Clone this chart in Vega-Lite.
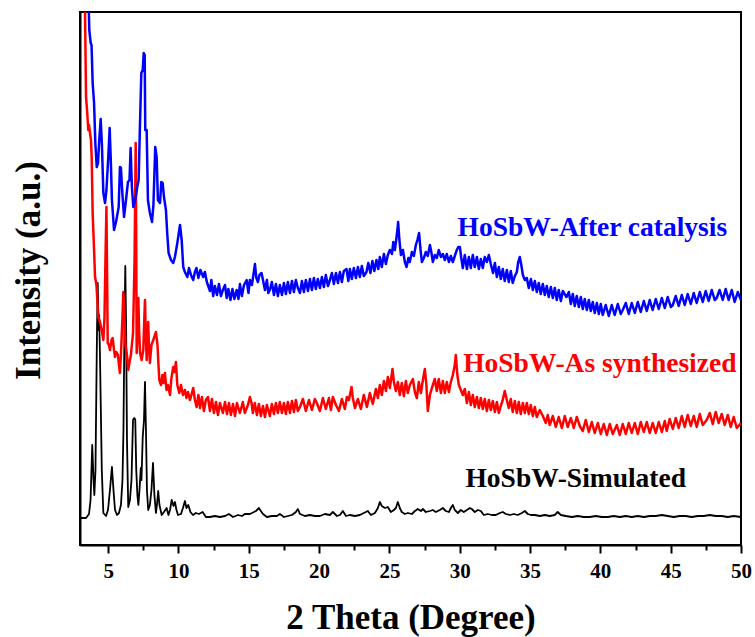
{
"$schema": "https://vega.github.io/schema/vega-lite/v6.json",
"width": 661, "height": 533,
"autosize": {"type": "none"},
"padding": {"left": 80, "top": 12, "right": 14, "bottom": 92},
"background": "white",
"config": {"font": "Liberation Serif", "view": {"stroke": "black", "strokeWidth": 2}},
"datasets": {
"sim": [
{"x":3.00,"y":27},{"x":3.43,"y":27},{"x":3.64,"y":31},{"x":3.75,"y":45},{"x":3.87,"y":100},{"x":3.96,"y":65},{"x":4.02,"y":50},{"x":4.10,"y":75},{"x":4.21,"y":215},{"x":4.26,"y":262},{"x":4.32,"y":215},{"x":4.36,"y":230},{"x":4.42,"y":190},{"x":4.47,"y":145},{"x":4.55,"y":75},{"x":4.66,"y":32},{"x":4.85,"y":29},{"x":4.99,"y":35},{"x":5.13,"y":55},{"x":5.27,"y":78},{"x":5.38,"y":55},{"x":5.49,"y":35},{"x":5.63,"y":30},{"x":5.77,"y":32},{"x":5.91,"y":40},{"x":6.02,"y":65},{"x":6.09,"y":115},{"x":6.16,"y":215},{"x":6.22,"y":279},{"x":6.28,"y":215},{"x":6.34,"y":105},{"x":6.43,"y":38},{"x":6.55,"y":45},{"x":6.66,"y":65},{"x":6.77,"y":125},{"x":6.86,"y":127},{"x":6.93,"y":125},{"x":7.00,"y":75},{"x":7.08,"y":50},{"x":7.15,"y":40},{"x":7.23,"y":55},{"x":7.32,"y":77},{"x":7.37,"y":65},{"x":7.46,"y":108},{"x":7.55,"y":125},{"x":7.62,"y":163},{"x":7.69,"y":115},{"x":7.76,"y":55},{"x":7.85,"y":35},{"x":7.97,"y":40},{"x":8.08,"y":55},{"x":8.19,"y":82},{"x":8.29,"y":50},{"x":8.40,"y":32},{"x":8.47,"y":40},{"x":8.56,"y":54},{"x":8.65,"y":40},{"x":8.81,"y":30},{"x":8.97,"y":33},{"x":9.16,"y":37},{"x":9.29,"y":30},{"x":9.40,"y":35},{"x":9.52,"y":45},{"x":9.65,"y":39},{"x":9.75,"y":43},{"x":9.86,"y":35},{"x":9.97,"y":30},{"x":10.18,"y":31},{"x":10.32,"y":37},{"x":10.46,"y":44},{"x":10.57,"y":37},{"x":10.70,"y":40},{"x":10.85,"y":33},{"x":11.03,"y":30},{"x":11.24,"y":32},{"x":11.46,"y":31},{"x":11.72,"y":33},{"x":11.95,"y":28},{"x":12.24,"y":28},{"x":12.59,"y":29},{"x":12.95,"y":28},{"x":13.31,"y":29},{"x":13.59,"y":31},{"x":13.88,"y":28},{"x":14.23,"y":30},{"x":14.52,"y":29},{"x":14.72,"y":31},{"x":15.08,"y":31},{"x":15.37,"y":33},{"x":15.51,"y":34},{"x":15.72,"y":37},{"x":15.86,"y":34},{"x":16.01,"y":31},{"x":16.29,"y":28},{"x":16.64,"y":29},{"x":17.00,"y":29},{"x":17.21,"y":31},{"x":17.50,"y":28},{"x":17.78,"y":29},{"x":18.07,"y":30},{"x":18.35,"y":33},{"x":18.49,"y":36},{"x":18.64,"y":31},{"x":18.99,"y":29},{"x":19.35,"y":30},{"x":19.70,"y":29},{"x":20.06,"y":29},{"x":20.41,"y":31},{"x":20.77,"y":30},{"x":20.98,"y":33},{"x":21.27,"y":29},{"x":21.48,"y":30},{"x":21.69,"y":34},{"x":21.91,"y":29},{"x":22.19,"y":30},{"x":22.55,"y":29},{"x":22.90,"y":30},{"x":23.18,"y":32},{"x":23.47,"y":34},{"x":23.68,"y":30},{"x":23.97,"y":32},{"x":24.18,"y":37},{"x":24.32,"y":43},{"x":24.46,"y":39},{"x":24.68,"y":37},{"x":24.89,"y":38},{"x":25.10,"y":33},{"x":25.32,"y":35},{"x":25.46,"y":37},{"x":25.60,"y":43},{"x":25.74,"y":37},{"x":25.88,"y":33},{"x":26.10,"y":31},{"x":26.31,"y":32},{"x":26.60,"y":31},{"x":26.81,"y":34},{"x":27.02,"y":36},{"x":27.24,"y":34},{"x":27.38,"y":36},{"x":27.59,"y":33},{"x":27.88,"y":34},{"x":28.09,"y":35},{"x":28.30,"y":33},{"x":28.59,"y":35},{"x":28.80,"y":37},{"x":29.01,"y":34},{"x":29.23,"y":33},{"x":29.37,"y":37},{"x":29.51,"y":40},{"x":29.65,"y":35},{"x":29.87,"y":32},{"x":30.08,"y":35},{"x":30.29,"y":33},{"x":30.51,"y":35},{"x":30.72,"y":37},{"x":30.86,"y":36},{"x":31.07,"y":33},{"x":31.29,"y":35},{"x":31.50,"y":34},{"x":31.71,"y":30},{"x":32.00,"y":31},{"x":32.28,"y":30},{"x":32.57,"y":30},{"x":32.85,"y":32},{"x":33.06,"y":33},{"x":33.28,"y":31},{"x":33.56,"y":30},{"x":33.85,"y":31},{"x":34.13,"y":30},{"x":34.42,"y":32},{"x":34.63,"y":34},{"x":34.84,"y":31},{"x":35.06,"y":30},{"x":35.34,"y":30},{"x":35.70,"y":29},{"x":36.05,"y":30},{"x":36.40,"y":29},{"x":36.76,"y":30},{"x":36.97,"y":33},{"x":37.19,"y":30},{"x":37.54,"y":29},{"x":37.97,"y":28},{"x":38.39,"y":29},{"x":38.82,"y":28},{"x":39.25,"y":28},{"x":39.67,"y":29},{"x":40.10,"y":28},{"x":40.53,"y":28},{"x":40.95,"y":29},{"x":41.38,"y":28},{"x":41.81,"y":29},{"x":42.23,"y":28},{"x":42.66,"y":29},{"x":43.09,"y":28},{"x":43.51,"y":29},{"x":43.94,"y":29},{"x":44.37,"y":30},{"x":44.79,"y":29},{"x":45.22,"y":28},{"x":45.64,"y":29},{"x":46.07,"y":29},{"x":46.50,"y":28},{"x":46.92,"y":29},{"x":47.35,"y":29},{"x":47.78,"y":30},{"x":48.20,"y":29},{"x":48.63,"y":29},{"x":49.06,"y":28},{"x":49.48,"y":29},{"x":50.00,"y":28}
],
"asyn": [
{"x":3.30,"y":600},{"x":3.43,"y":448},{"x":3.50,"y":435},{"x":3.59,"y":415},{"x":3.64,"y":420},{"x":3.71,"y":412},{"x":3.78,"y":405},{"x":3.83,"y":388},{"x":3.90,"y":332},{"x":4.00,"y":295},{"x":4.07,"y":268},{"x":4.17,"y":260},{"x":4.30,"y":228},{"x":4.42,"y":223},{"x":4.54,"y":215},{"x":4.66,"y":205},{"x":4.74,"y":227},{"x":4.81,"y":285},{"x":4.88,"y":338},{"x":4.93,"y":265},{"x":4.97,"y":202},{"x":5.06,"y":200},{"x":5.13,"y":195},{"x":5.24,"y":205},{"x":5.32,"y":207},{"x":5.42,"y":195},{"x":5.49,"y":188},{"x":5.59,"y":193},{"x":5.70,"y":190},{"x":5.77,"y":180},{"x":5.84,"y":172},{"x":5.91,"y":190},{"x":6.01,"y":225},{"x":6.08,"y":253},{"x":6.16,"y":230},{"x":6.23,"y":200},{"x":6.34,"y":190},{"x":6.43,"y":175},{"x":6.55,"y":185},{"x":6.62,"y":190},{"x":6.77,"y":212},{"x":6.88,"y":285},{"x":6.96,"y":402},{"x":7.00,"y":295},{"x":7.03,"y":192},{"x":7.09,"y":215},{"x":7.15,"y":247},{"x":7.20,"y":215},{"x":7.27,"y":192},{"x":7.38,"y":185},{"x":7.50,"y":195},{"x":7.57,"y":225},{"x":7.62,"y":245},{"x":7.68,"y":210},{"x":7.74,"y":185},{"x":7.80,"y":210},{"x":7.85,"y":223},{"x":7.90,"y":200},{"x":7.97,"y":182},{"x":8.08,"y":200},{"x":8.21,"y":205},{"x":8.33,"y":210},{"x":8.40,"y":213},{"x":8.51,"y":200},{"x":8.58,"y":180},{"x":8.64,"y":165},{"x":8.76,"y":160},{"x":8.86,"y":170},{"x":8.93,"y":162},{"x":9.04,"y":172},{"x":9.15,"y":155},{"x":9.25,"y":160},{"x":9.40,"y":150},{"x":9.50,"y":167},{"x":9.63,"y":178},{"x":9.72,"y":173},{"x":9.82,"y":183},{"x":9.92,"y":160},{"x":10.06,"y":152},{"x":10.18,"y":160},{"x":10.32,"y":150},{"x":10.46,"y":155},{"x":10.57,"y":147},{"x":10.68,"y":153},{"x":10.82,"y":145},{"x":10.92,"y":150},{"x":11.05,"y":157},{"x":11.17,"y":145},{"x":11.29,"y":138},{"x":11.42,"y":150},{"x":11.53,"y":137},{"x":11.67,"y":148},{"x":11.81,"y":134},{"x":11.95,"y":145},{"x":12.10,"y":148},{"x":12.24,"y":134},{"x":12.38,"y":146},{"x":12.52,"y":132},{"x":12.67,"y":143},{"x":12.81,"y":130},{"x":12.95,"y":142},{"x":13.16,"y":132},{"x":13.31,"y":143},{"x":13.45,"y":131},{"x":13.59,"y":142},{"x":13.73,"y":130},{"x":13.88,"y":141},{"x":14.02,"y":129},{"x":14.16,"y":142},{"x":14.37,"y":132},{"x":14.58,"y":143},{"x":14.72,"y":132},{"x":14.94,"y":140},{"x":15.08,"y":148},{"x":15.20,"y":142},{"x":15.29,"y":132},{"x":15.43,"y":142},{"x":15.58,"y":130},{"x":15.72,"y":141},{"x":15.86,"y":129},{"x":16.01,"y":139},{"x":16.15,"y":128},{"x":16.29,"y":140},{"x":16.50,"y":129},{"x":16.64,"y":141},{"x":16.79,"y":131},{"x":16.93,"y":142},{"x":17.07,"y":132},{"x":17.21,"y":143},{"x":17.36,"y":132},{"x":17.50,"y":142},{"x":17.64,"y":131},{"x":17.78,"y":143},{"x":17.93,"y":132},{"x":18.07,"y":144},{"x":18.21,"y":133},{"x":18.35,"y":145},{"x":18.49,"y":134},{"x":18.64,"y":138},{"x":18.85,"y":146},{"x":19.06,"y":134},{"x":19.28,"y":145},{"x":19.49,"y":135},{"x":19.70,"y":146},{"x":19.84,"y":142},{"x":20.06,"y":134},{"x":20.27,"y":147},{"x":20.48,"y":136},{"x":20.70,"y":147},{"x":20.84,"y":135},{"x":20.98,"y":148},{"x":21.20,"y":140},{"x":21.41,"y":134},{"x":21.62,"y":146},{"x":21.83,"y":136},{"x":21.98,"y":148},{"x":22.12,"y":145},{"x":22.31,"y":158},{"x":22.40,"y":147},{"x":22.55,"y":137},{"x":22.76,"y":146},{"x":22.97,"y":136},{"x":23.18,"y":150},{"x":23.40,"y":138},{"x":23.61,"y":152},{"x":23.82,"y":141},{"x":24.04,"y":156},{"x":24.18,"y":147},{"x":24.32,"y":160},{"x":24.46,"y":150},{"x":24.61,"y":164},{"x":24.75,"y":154},{"x":24.89,"y":168},{"x":25.03,"y":157},{"x":25.22,"y":176},{"x":25.32,"y":163},{"x":25.46,"y":154},{"x":25.60,"y":163},{"x":25.74,"y":150},{"x":25.88,"y":162},{"x":26.03,"y":149},{"x":26.17,"y":164},{"x":26.31,"y":152},{"x":26.45,"y":160},{"x":26.67,"y":166},{"x":26.81,"y":153},{"x":26.95,"y":147},{"x":27.09,"y":163},{"x":27.24,"y":152},{"x":27.38,"y":165},{"x":27.52,"y":176},{"x":27.63,"y":160},{"x":27.73,"y":134},{"x":27.88,"y":150},{"x":28.02,"y":157},{"x":28.23,"y":166},{"x":28.37,"y":154},{"x":28.51,"y":166},{"x":28.66,"y":152},{"x":28.80,"y":164},{"x":28.94,"y":152},{"x":29.08,"y":163},{"x":29.23,"y":153},{"x":29.37,"y":163},{"x":29.51,"y":170},{"x":29.65,"y":180},{"x":29.72,"y":190},{"x":29.83,"y":170},{"x":29.94,"y":160},{"x":30.08,"y":155},{"x":30.22,"y":150},{"x":30.36,"y":156},{"x":30.51,"y":142},{"x":30.65,"y":153},{"x":30.79,"y":140},{"x":30.93,"y":150},{"x":31.07,"y":138},{"x":31.22,"y":148},{"x":31.36,"y":137},{"x":31.50,"y":147},{"x":31.64,"y":136},{"x":31.78,"y":146},{"x":31.93,"y":134},{"x":32.07,"y":145},{"x":32.21,"y":135},{"x":32.35,"y":144},{"x":32.50,"y":133},{"x":32.64,"y":143},{"x":32.78,"y":132},{"x":32.92,"y":139},{"x":33.06,"y":145},{"x":33.20,"y":154},{"x":33.35,"y":145},{"x":33.49,"y":137},{"x":33.63,"y":146},{"x":33.77,"y":133},{"x":33.92,"y":144},{"x":34.06,"y":132},{"x":34.20,"y":143},{"x":34.34,"y":131},{"x":34.49,"y":142},{"x":34.63,"y":132},{"x":34.77,"y":142},{"x":34.91,"y":131},{"x":35.05,"y":140},{"x":35.20,"y":129},{"x":35.34,"y":138},{"x":35.48,"y":128},{"x":35.69,"y":135},{"x":35.91,"y":129},{"x":36.12,"y":122},{"x":36.26,"y":130},{"x":36.40,"y":120},{"x":36.62,"y":129},{"x":36.83,"y":118},{"x":37.04,"y":128},{"x":37.26,"y":117},{"x":37.47,"y":129},{"x":37.68,"y":118},{"x":37.90,"y":127},{"x":38.11,"y":117},{"x":38.32,"y":128},{"x":38.54,"y":119},{"x":38.75,"y":114},{"x":38.96,"y":125},{"x":39.18,"y":113},{"x":39.39,"y":123},{"x":39.60,"y":112},{"x":39.82,"y":122},{"x":40.03,"y":111},{"x":40.24,"y":121},{"x":40.46,"y":110},{"x":40.67,"y":121},{"x":40.88,"y":111},{"x":41.17,"y":120},{"x":41.38,"y":110},{"x":41.59,"y":121},{"x":41.81,"y":111},{"x":42.02,"y":122},{"x":42.23,"y":112},{"x":42.45,"y":122},{"x":42.66,"y":111},{"x":42.87,"y":123},{"x":43.09,"y":113},{"x":43.30,"y":123},{"x":43.51,"y":112},{"x":43.72,"y":122},{"x":43.94,"y":112},{"x":44.15,"y":123},{"x":44.37,"y":113},{"x":44.58,"y":124},{"x":44.72,"y":114},{"x":44.93,"y":126},{"x":45.15,"y":116},{"x":45.36,"y":127},{"x":45.57,"y":117},{"x":45.79,"y":129},{"x":46.00,"y":118},{"x":46.21,"y":130},{"x":46.43,"y":119},{"x":46.64,"y":129},{"x":46.85,"y":118},{"x":47.07,"y":131},{"x":47.28,"y":120},{"x":47.56,"y":125},{"x":47.78,"y":132},{"x":47.99,"y":121},{"x":48.20,"y":133},{"x":48.41,"y":122},{"x":48.63,"y":131},{"x":48.84,"y":120},{"x":49.06,"y":130},{"x":49.27,"y":118},{"x":49.48,"y":128},{"x":49.70,"y":117},{"x":50.00,"y":122}
],
"after": [
{"x":3.55,"y":580},{"x":3.66,"y":515},{"x":3.76,"y":502},{"x":3.82,"y":500},{"x":3.90,"y":462},{"x":4.00,"y":442},{"x":4.09,"y":402},{"x":4.19,"y":378},{"x":4.28,"y":382},{"x":4.37,"y":405},{"x":4.47,"y":426},{"x":4.56,"y":400},{"x":4.66,"y":352},{"x":4.78,"y":342},{"x":4.88,"y":355},{"x":5.01,"y":388},{"x":5.11,"y":417},{"x":5.20,"y":380},{"x":5.27,"y":345},{"x":5.42,"y":315},{"x":5.56,"y":323},{"x":5.65,"y":330},{"x":5.75,"y":338},{"x":5.84,"y":378},{"x":5.91,"y":377},{"x":6.01,"y":352},{"x":6.13,"y":328},{"x":6.27,"y":345},{"x":6.41,"y":363},{"x":6.52,"y":365},{"x":6.60,"y":397},{"x":6.69,"y":358},{"x":6.79,"y":338},{"x":6.93,"y":345},{"x":7.07,"y":358},{"x":7.17,"y":365},{"x":7.26,"y":418},{"x":7.36,"y":472},{"x":7.46,"y":475},{"x":7.53,"y":492},{"x":7.60,"y":490},{"x":7.64,"y":415},{"x":7.74,"y":415},{"x":7.83,"y":345},{"x":7.97,"y":332},{"x":8.12,"y":323},{"x":8.22,"y":340},{"x":8.35,"y":398},{"x":8.45,"y":388},{"x":8.54,"y":345},{"x":8.69,"y":342},{"x":8.78,"y":363},{"x":8.88,"y":362},{"x":8.97,"y":348},{"x":9.11,"y":335},{"x":9.20,"y":312},{"x":9.30,"y":292},{"x":9.47,"y":285},{"x":9.63,"y":282},{"x":9.75,"y":288},{"x":9.92,"y":302},{"x":10.11,"y":320},{"x":10.23,"y":305},{"x":10.34,"y":278},{"x":10.46,"y":273},{"x":10.63,"y":268},{"x":10.75,"y":277},{"x":10.89,"y":270},{"x":11.05,"y":265},{"x":11.17,"y":273},{"x":11.28,"y":277},{"x":11.42,"y":267},{"x":11.56,"y":275},{"x":11.76,"y":268},{"x":11.88,"y":273},{"x":12.02,"y":263},{"x":12.24,"y":254},{"x":12.34,"y":265},{"x":12.47,"y":249},{"x":12.59,"y":259},{"x":12.74,"y":250},{"x":12.88,"y":261},{"x":13.02,"y":249},{"x":13.16,"y":255},{"x":13.31,"y":260},{"x":13.43,"y":247},{"x":13.55,"y":256},{"x":13.70,"y":245},{"x":13.84,"y":256},{"x":13.98,"y":246},{"x":14.14,"y":255},{"x":14.27,"y":246},{"x":14.37,"y":261},{"x":14.51,"y":249},{"x":14.66,"y":260},{"x":14.85,"y":265},{"x":14.98,"y":252},{"x":15.08,"y":265},{"x":15.22,"y":260},{"x":15.33,"y":270},{"x":15.44,"y":281},{"x":15.54,"y":267},{"x":15.65,"y":263},{"x":15.76,"y":270},{"x":15.91,"y":272},{"x":16.01,"y":265},{"x":16.15,"y":255},{"x":16.29,"y":265},{"x":16.39,"y":252},{"x":16.50,"y":255},{"x":16.64,"y":263},{"x":16.79,"y":250},{"x":16.93,"y":261},{"x":17.07,"y":249},{"x":17.21,"y":260},{"x":17.36,"y":250},{"x":17.50,"y":262},{"x":17.64,"y":251},{"x":17.78,"y":263},{"x":17.93,"y":252},{"x":18.07,"y":264},{"x":18.21,"y":253},{"x":18.35,"y":265},{"x":18.49,"y":257},{"x":18.64,"y":252},{"x":18.78,"y":264},{"x":18.92,"y":253},{"x":19.06,"y":265},{"x":19.21,"y":254},{"x":19.35,"y":266},{"x":19.49,"y":255},{"x":19.63,"y":267},{"x":19.77,"y":256},{"x":19.91,"y":266},{"x":20.06,"y":257},{"x":20.20,"y":268},{"x":20.34,"y":258},{"x":20.48,"y":270},{"x":20.63,"y":259},{"x":20.77,"y":265},{"x":20.91,"y":272},{"x":21.05,"y":261},{"x":21.20,"y":272},{"x":21.34,"y":262},{"x":21.48,"y":273},{"x":21.62,"y":263},{"x":21.76,"y":274},{"x":21.95,"y":276},{"x":22.08,"y":264},{"x":22.19,"y":276},{"x":22.33,"y":266},{"x":22.47,"y":277},{"x":22.62,"y":267},{"x":22.76,"y":278},{"x":22.90,"y":268},{"x":23.04,"y":279},{"x":23.18,"y":269},{"x":23.37,"y":273},{"x":23.50,"y":282},{"x":23.65,"y":272},{"x":23.79,"y":284},{"x":23.93,"y":274},{"x":24.08,"y":285},{"x":24.21,"y":276},{"x":24.32,"y":288},{"x":24.46,"y":278},{"x":24.61,"y":291},{"x":24.75,"y":281},{"x":24.89,"y":290},{"x":25.03,"y":295},{"x":25.18,"y":291},{"x":25.28,"y":303},{"x":25.39,"y":295},{"x":25.50,"y":307},{"x":25.57,"y":315},{"x":25.62,"y":323},{"x":25.71,"y":305},{"x":25.82,"y":290},{"x":25.96,"y":295},{"x":26.10,"y":283},{"x":26.22,"y":278},{"x":26.35,"y":287},{"x":26.45,"y":283},{"x":26.60,"y":293},{"x":26.74,"y":289},{"x":26.88,"y":300},{"x":26.99,"y":305},{"x":27.11,"y":312},{"x":27.20,"y":297},{"x":27.31,"y":283},{"x":27.45,"y":287},{"x":27.59,"y":293},{"x":27.73,"y":289},{"x":27.88,"y":300},{"x":27.98,"y":293},{"x":28.09,"y":283},{"x":28.23,"y":290},{"x":28.37,"y":287},{"x":28.51,"y":295},{"x":28.66,"y":288},{"x":28.80,"y":291},{"x":28.94,"y":285},{"x":29.08,"y":291},{"x":29.23,"y":283},{"x":29.37,"y":289},{"x":29.51,"y":283},{"x":29.65,"y":289},{"x":29.79,"y":295},{"x":29.90,"y":298},{"x":30.01,"y":298},{"x":30.11,"y":287},{"x":30.22,"y":277},{"x":30.36,"y":290},{"x":30.51,"y":276},{"x":30.65,"y":288},{"x":30.79,"y":277},{"x":30.93,"y":290},{"x":31.07,"y":278},{"x":31.22,"y":288},{"x":31.36,"y":276},{"x":31.50,"y":286},{"x":31.64,"y":277},{"x":31.78,"y":288},{"x":31.93,"y":283},{"x":32.07,"y":290},{"x":32.21,"y":281},{"x":32.37,"y":272},{"x":32.50,"y":282},{"x":32.64,"y":268},{"x":32.78,"y":278},{"x":32.92,"y":266},{"x":33.06,"y":276},{"x":33.20,"y":264},{"x":33.35,"y":275},{"x":33.49,"y":263},{"x":33.63,"y":274},{"x":33.77,"y":262},{"x":33.92,"y":269},{"x":34.06,"y":273},{"x":34.16,"y":283},{"x":34.27,"y":288},{"x":34.38,"y":280},{"x":34.49,"y":270},{"x":34.63,"y":265},{"x":34.77,"y":267},{"x":34.91,"y":257},{"x":35.06,"y":266},{"x":35.20,"y":255},{"x":35.34,"y":264},{"x":35.48,"y":253},{"x":35.62,"y":262},{"x":35.76,"y":251},{"x":35.91,"y":261},{"x":36.05,"y":250},{"x":36.19,"y":259},{"x":36.33,"y":248},{"x":36.48,"y":258},{"x":36.62,"y":247},{"x":36.76,"y":257},{"x":36.90,"y":245},{"x":37.04,"y":255},{"x":37.19,"y":244},{"x":37.33,"y":254},{"x":37.59,"y":248},{"x":37.76,"y":253},{"x":37.90,"y":241},{"x":38.04,"y":251},{"x":38.18,"y":239},{"x":38.32,"y":249},{"x":38.47,"y":238},{"x":38.61,"y":248},{"x":38.75,"y":236},{"x":38.89,"y":246},{"x":39.04,"y":235},{"x":39.18,"y":245},{"x":39.32,"y":234},{"x":39.46,"y":243},{"x":39.60,"y":232},{"x":39.75,"y":242},{"x":39.89,"y":231},{"x":40.03,"y":241},{"x":40.17,"y":230},{"x":40.38,"y":240},{"x":40.60,"y":229},{"x":40.81,"y":240},{"x":41.02,"y":230},{"x":41.24,"y":241},{"x":41.45,"y":231},{"x":41.59,"y":235},{"x":41.81,"y":242},{"x":42.02,"y":231},{"x":42.23,"y":242},{"x":42.45,"y":232},{"x":42.66,"y":243},{"x":42.87,"y":233},{"x":43.09,"y":244},{"x":43.30,"y":234},{"x":43.51,"y":245},{"x":43.72,"y":235},{"x":43.94,"y":246},{"x":44.15,"y":236},{"x":44.37,"y":247},{"x":44.58,"y":237},{"x":44.79,"y":248},{"x":45.01,"y":238},{"x":45.15,"y":240},{"x":45.36,"y":249},{"x":45.57,"y":239},{"x":45.79,"y":250},{"x":46.00,"y":240},{"x":46.21,"y":251},{"x":46.43,"y":241},{"x":46.64,"y":252},{"x":46.85,"y":242},{"x":47.07,"y":253},{"x":47.28,"y":243},{"x":47.49,"y":254},{"x":47.70,"y":244},{"x":47.92,"y":255},{"x":48.13,"y":245},{"x":48.27,"y":247},{"x":48.48,"y":255},{"x":48.70,"y":245},{"x":48.91,"y":256},{"x":49.12,"y":245},{"x":49.34,"y":255},{"x":49.55,"y":243},{"x":49.77,"y":253},{"x":50.00,"y":245}
],
"labels": [
{"label":"HoSbW-After catalysis","x":39.43,"y":309,"c":"#0000ff"},
{"label":"HoSbW-As synthesized","x":39.96,"y":173,"c":"#ff0000"},
{"label":"HoSbW-Simulated","x":38.25,"y":58,"c":"#000000"}
]
},
"encoding": {
"x": {"field": "x", "type": "quantitative",
"scale": {"domain": [3, 50], "nice": false, "zero": false},
"axis": {"title": "2 Theta (Degree)", "grid": false,
"values": [5,7.5,10,12.5,15,17.5,20,22.5,25,27.5,30,32.5,35,37.5,40,42.5,45,47.5,50],
"labelExpr": "datum.value % 5 === 0 ? datum.label : ''",
"tickSize": {"condition": {"test": "datum.value % 5 === 0", "value": 8}, "value": 5},
"tickColor": "black", "tickWidth": 2, "domainColor": "black", "domainWidth": 2,
"labelFont": "Liberation Serif", "labelFontWeight": "bold", "labelFontSize": 21, "labelColor": "black", "labelPadding": 7,
"labelFlush": false, "labelOverlap": false,
"titleFont": "Liberation Serif", "titleFontWeight": "bold", "titleFontSize": 35, "titleColor": "black", "titlePadding": 19}},
"y": {"field": "y", "type": "quantitative",
"scale": {"domain": [0, 533], "nice": false, "zero": false},
"axis": {"title": "Intensity (a.u.)", "grid": false, "ticks": false, "labels": false,
"domainColor": "black", "domainWidth": 2, "titleY": 258,
"titleFont": "Liberation Serif", "titleFontWeight": "bold", "titleFontSize": 35, "titleColor": "black", "titlePadding": 34}}
},
"layer": [
{"data": {"name": "sim"}, "mark": {"type": "line", "color": "black", "strokeWidth": 1.8, "clip": true, "strokeJoin": "round"}},
{"data": {"name": "asyn"}, "mark": {"type": "line", "color": "#ff0000", "strokeWidth": 2.5, "clip": true, "strokeJoin": "round"}},
{"data": {"name": "after"}, "mark": {"type": "line", "color": "#0000ff", "strokeWidth": 2.5, "clip": true, "strokeJoin": "round"}},
{"data": {"name": "labels"}, "mark": {"type": "text", "font": "Liberation Serif", "fontWeight": "bold", "fontSize": 27.5, "align": "center", "baseline": "alphabetic"},
"encoding": {"text": {"field": "label"}, "color": {"field": "c", "type": "nominal", "scale": null}}}
]
}
